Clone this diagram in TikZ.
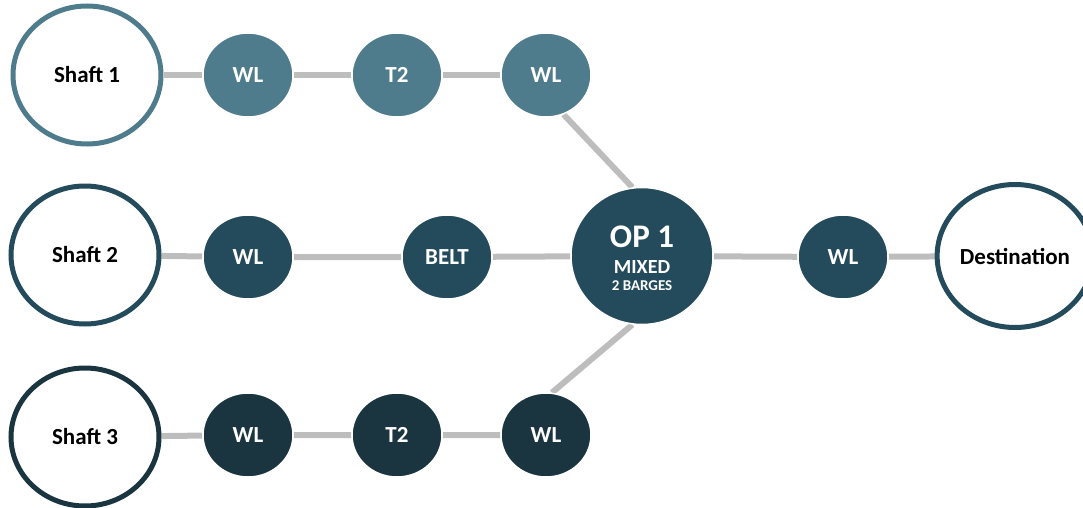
\documentclass[tikz,border=0pt]{standalone}
\usepackage{fontspec}
\setmainfont{Carlito}
\usetikzlibrary{shapes.geometric,backgrounds}
\definecolor{rowA}{HTML}{4F7C8C}
\definecolor{rowB}{HTML}{244B5B}
\definecolor{rowC}{HTML}{1A3540}
\definecolor{linkgray}{HTML}{BDBDBD}
\begin{document}
\begin{tikzpicture}[x=1pt,y=-1pt,
  shaftnode/.style={ellipse,draw=#1,line width=5pt,fill=white,minimum width=148pt,minimum height=138pt,inner sep=0pt,font=\bfseries\fontsize{23}{26}\selectfont,text=black},
  stopnode/.style={ellipse,fill=#1,draw=white,line width=1.5pt,minimum width=90pt,minimum height=84pt,inner sep=0pt,font=\bfseries\fontsize{23}{26}\selectfont,text=white},
  hubnode/.style={ellipse,fill=rowB,draw=white,line width=1.5pt,minimum width=142pt,minimum height=137pt,inner sep=0pt},
  hubtext/.style={text=white,inner sep=0pt,font=\bfseries\fontsize{#1}{#1}\selectfont},
  link/.style={draw=linkgray,line width=6pt}]
\useasboundingbox (0,0) rectangle (1083,508);
% first line
\node[shaftnode=rowA] (s1) at (87,75) {Shaft 1};
\node[stopnode=rowA] (a1) at (248,75) {WL};
\node[stopnode=rowA] (a2) at (397,75) {T2};
\node[stopnode=rowA] (a3) at (546,75) {WL};
% second line
\node[shaftnode=rowB] (s2) at (85,255) {Shaft 2};
\node[stopnode=rowB] (b1) at (248,257) {WL};
\node[stopnode=rowB] (b2) at (447,257) {BELT};
\node[hubnode] (op) at (642,256) {};
\node[hubtext=33] (opname) at (642,237) {OP 1};
\node[hubtext=20] (opmode) at (642,267) {MIXED};
\node[hubtext=15] (opload) at (642,286) {2 BARGES};
\node[stopnode=rowB] (b3) at (843,257) {WL};
\node[shaftnode=rowB,minimum width=150pt,minimum height=143pt] (dest) at (1015,256) {Destination};
% third line
\node[shaftnode=rowC] (s3) at (85,437) {Shaft 3};
\node[stopnode=rowC] (c1) at (248,435) {WL};
\node[stopnode=rowC] (c2) at (397,435) {T2};
\node[stopnode=rowC] (c3) at (546,435) {WL};
% connectors behind the circles
\begin{pgfonlayer}{background}
\path[link] (s1) -- (a1) (a1) -- (a2) (a2) -- (a3);
\path[link] (s2) -- (b1) (b1) -- (b2) (b2) -- (op) (op) -- (b3) (b3) -- (dest);
\path[link] (s3) -- (c1) (c1) -- (c2) (c2) -- (c3);
\path[link] (a3.-66) -- (op.98);
\path[link] (c3.82) -- (op.262);
\end{pgfonlayer}
\end{tikzpicture}
\end{document}
